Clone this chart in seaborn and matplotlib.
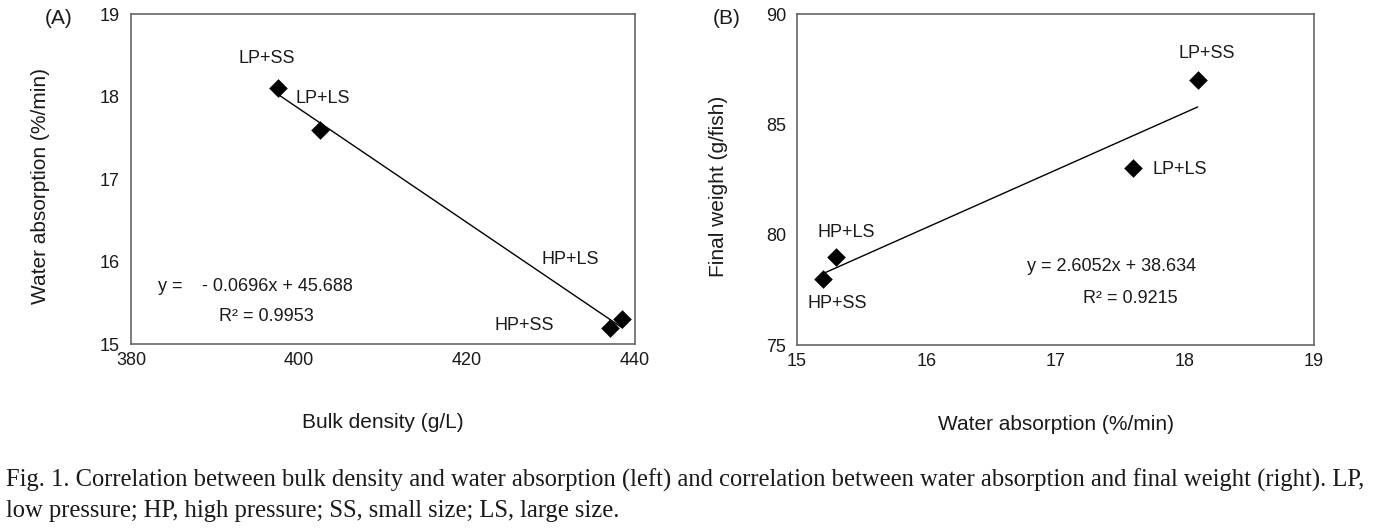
import numpy as np
import pandas as pd
import matplotlib.pyplot as plt
import seaborn as sns

# data
treatments = ['LP+SS', 'LP+LS', 'HP+SS', 'HP+LS']
bulk_density = [397.5, 402.5, 437.0, 438.5]       # g/L
water_absorption = [18.1, 17.6, 15.2, 15.3]       # %/min
final_weight = [87.0, 83.0, 78.0, 79.0]           # g/fish

# label positions (data coords) for each panel
lab_a = {'LP+SS': (396.2, 18.46), 'LP+LS': (402.8, 17.97),
         'HP+SS': (426.8, 15.22), 'HP+LS': (432.3, 16.02)}
lab_b = {'LP+SS': (18.17, 88.22), 'LP+LS': (17.96, 82.96),
         'HP+SS': (15.31, 76.86), 'HP+LS': (15.38, 80.11)}

df = pd.DataFrame({'trt': treatments, 'bd': bulk_density,
                   'wa': water_absorption, 'fw': final_weight})

sns.set_style('white')
plt.rcParams['font.family'] = ['Liberation Sans', 'DejaVu Sans']
plt.rcParams['text.color'] = '#1a1a1a'
plt.rcParams['axes.labelcolor'] = '#1a1a1a'
plt.rcParams['xtick.labelcolor'] = '#1a1a1a'
plt.rcParams['ytick.labelcolor'] = '#1a1a1a'
SPINE = '#666666'
FS = 13
SERIF = ['Liberation Serif', 'DejaVu Serif']

fig = plt.figure(figsize=(13.82, 5.29), dpi=100)
axA = fig.add_axes([0.0948, 0.3497, 0.3647, 0.6238])
axB = fig.add_axes([0.5767, 0.3478, 0.3741, 0.6257])

mk = dict(s=90, color='black', alpha=1, linewidths=0, zorder=3)
ln = dict(color='black', lw=1)

sns.regplot(data=df, x='bd', y='wa', ci=None, marker='D', ax=axA, scatter_kws=mk, line_kws=ln)
sns.regplot(data=df, x='wa', y='fw', ci=None, marker='D', ax=axB, scatter_kws=mk, line_kws=ln)

for t, (x, y) in lab_a.items():
    axA.text(x, y, t, ha='center', va='center', fontsize=FS)
for t, (x, y) in lab_b.items():
    axB.text(x, y, t, ha='center', va='center', fontsize=FS)

axA.text(383.2, 15.70, 'y =', ha='left', va='center', fontsize=FS)
axA.text(388.4, 15.70, '- 0.0696x + 45.688', ha='left', va='center', fontsize=FS)
axA.text(390.5, 15.33, 'R² = 0.9953', ha='left', va='center', fontsize=FS)
axB.text(17.43, 78.55, 'y = 2.6052x + 38.634', ha='center', va='center', fontsize=FS)
axB.text(17.58, 77.09, 'R² = 0.9215', ha='center', va='center', fontsize=FS)

axA.set(xlim=(380, 440), ylim=(15, 19), xticks=[380, 400, 420, 440], yticks=[15, 16, 17, 18, 19])
axB.set(xlim=(15, 19), ylim=(75, 90), xticks=[15, 16, 17, 18, 19], yticks=[75, 80, 85, 90])
axA.set_xlabel('Bulk density (g/L)', fontsize=15)
axA.set_ylabel('Water absorption (%/min)', fontsize=15)
axB.set_xlabel('Water absorption (%/min)', fontsize=15)
axB.set_ylabel('Final weight (g/fish)', fontsize=15)
axA.xaxis.set_label_coords(0.5, -0.21)
axB.xaxis.set_label_coords(0.5, -0.21)
axA.yaxis.set_label_coords(-0.16, 0.48)
axB.yaxis.set_label_coords(-0.134, 0.48)

for ax in (axA, axB):
    for s in ax.spines.values():
        s.set_visible(True)
        s.set_color(SPINE)
        s.set_linewidth(1.2)
    ax.tick_params(axis='x', direction='in', length=6, color=SPINE, labelsize=FS, pad=6)
    ax.tick_params(axis='y', direction='out', length=4, color=SPINE, labelsize=FS, pad=4)
    ax.grid(False)

fig.text(59 / 1382, 1 - 18 / 529, '(A)', ha='center', va='center', fontsize=15)
fig.text(727 / 1382, 1 - 18 / 529, '(B)', ha='center', va='center', fontsize=15)

cap1 = ('Fig. 1. Correlation between bulk density and water absorption (left) and correlation '
        'between water absorption and final weight (right). LP,')
cap2 = 'low pressure; HP, high pressure; SS, small size; LS, large size.'
fig.text(6 / 1382, 1 - 480 / 529, cap1, ha='left', va='center', fontsize=17.75, family=SERIF)
fig.text(6 / 1382, 1 - 511 / 529, cap2, ha='left', va='center', fontsize=17.75, family=SERIF)

plt.savefig('out.png', dpi=100)
